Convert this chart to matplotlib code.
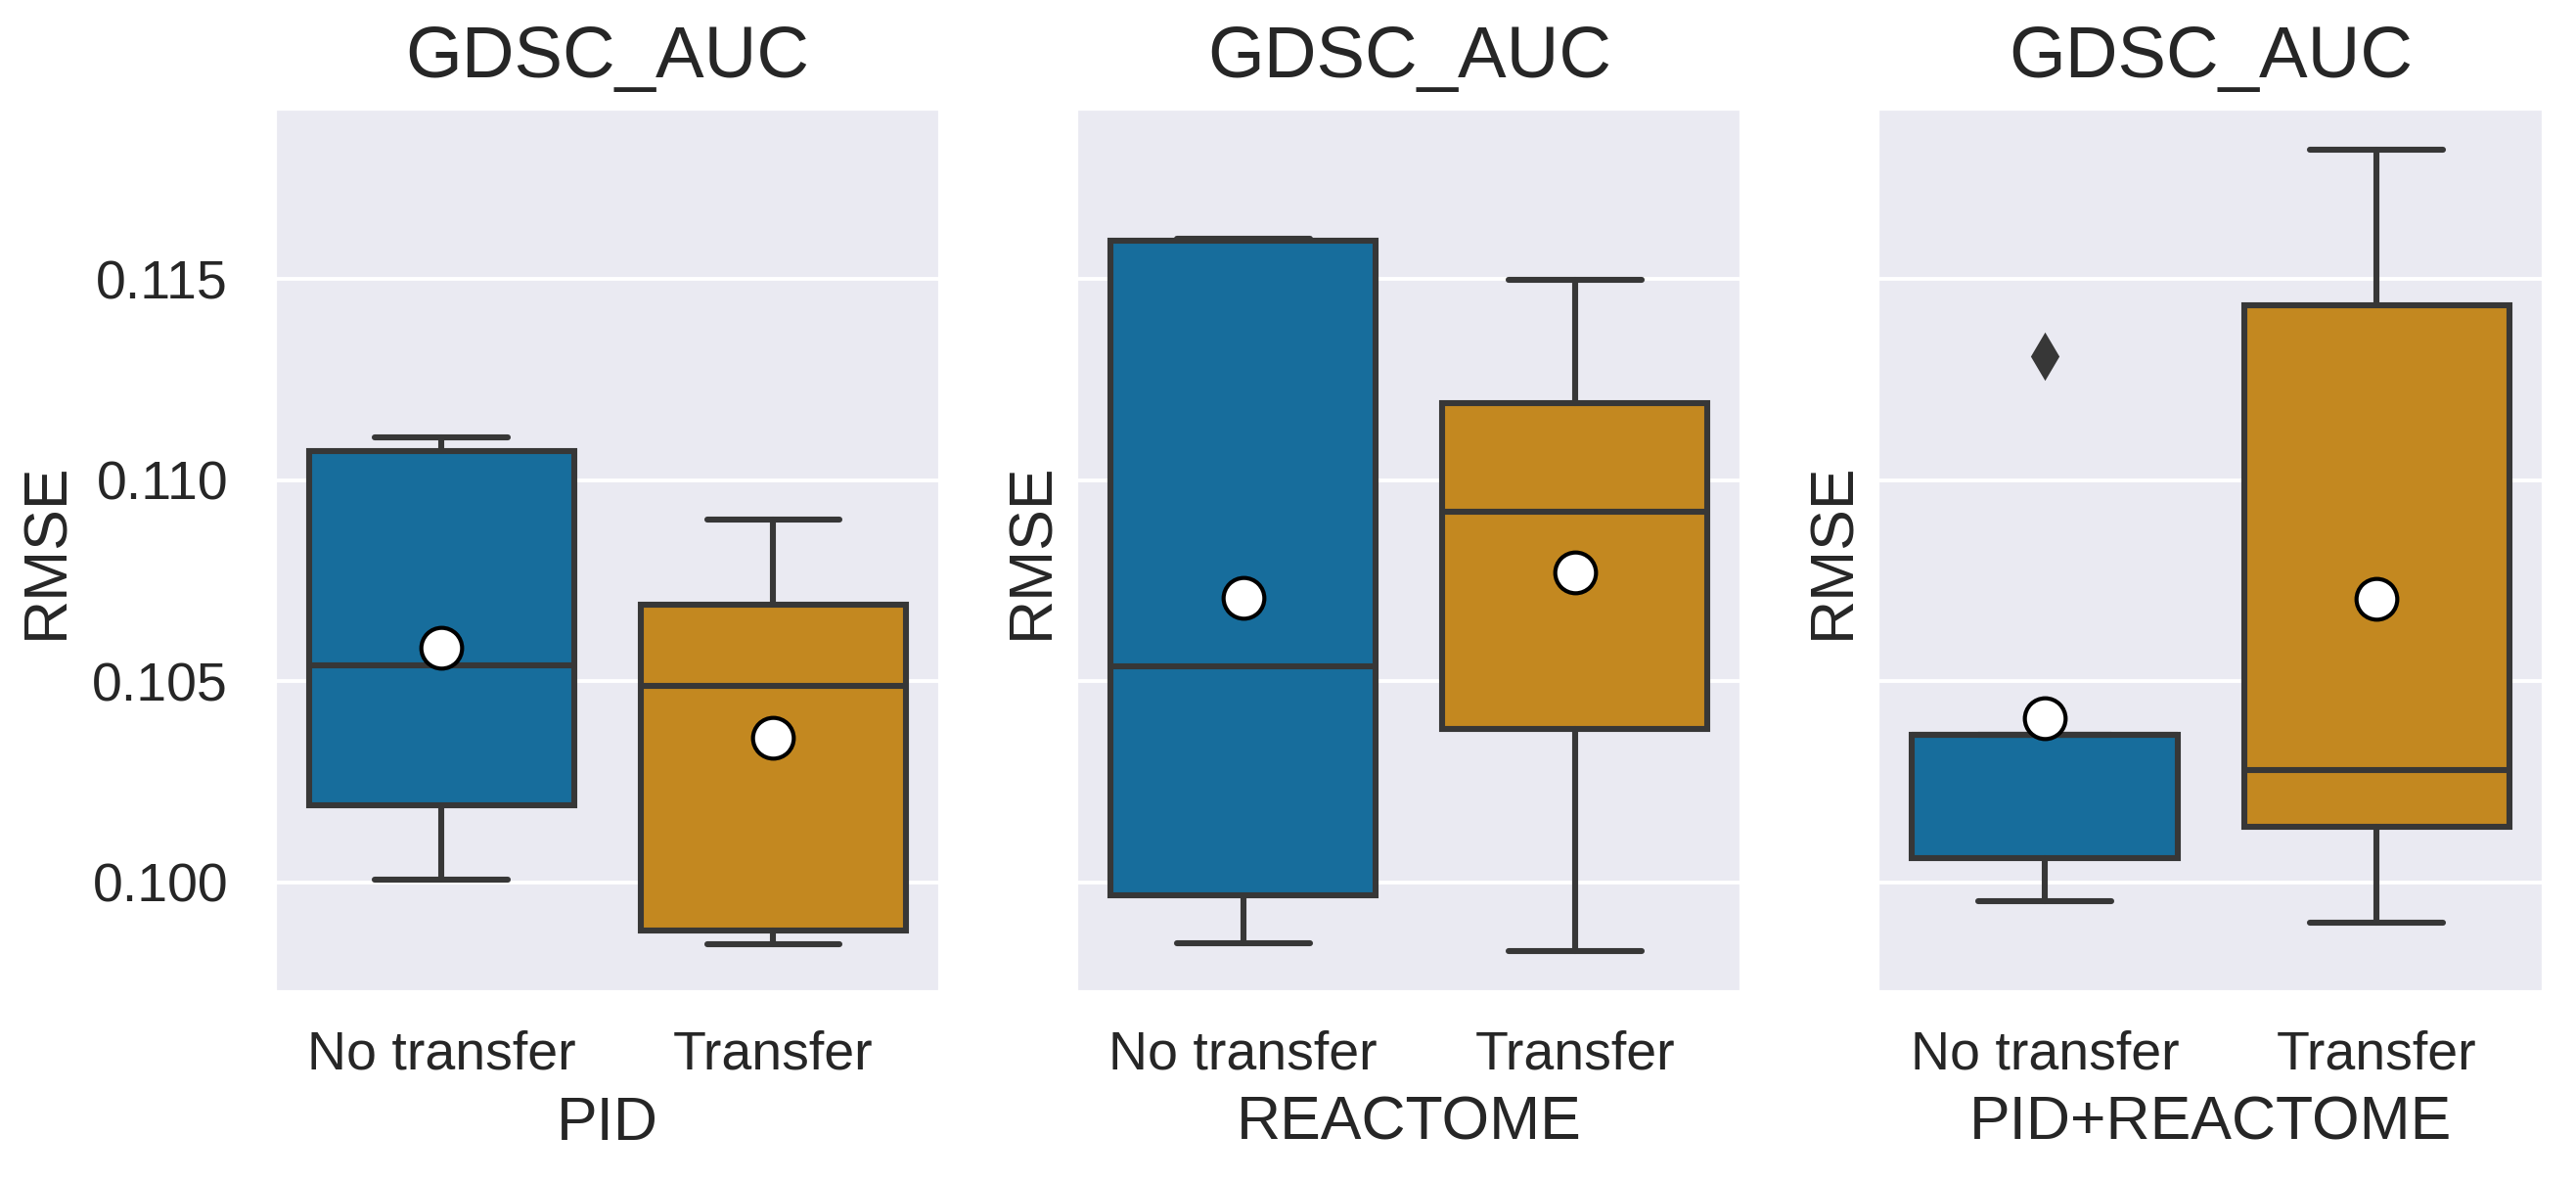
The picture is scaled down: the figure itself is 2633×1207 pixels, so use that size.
import matplotlib
matplotlib.use("Agg")
import matplotlib.pyplot as plt
import seaborn as sns

# -------------------------------------------------------
# Datos (RMSE por grupo)
# -------------------------------------------------------
TITULO = "GDSC_AUC"
paneles = ["PID", "REACTOME", "PID+REACTOME"]
grupos = ["No transfer", "Transfer"]

# cada fila = un panel, columnas = [No transfer, Transfer]
bigote_inf = [[0.10006, 0.09846], [0.09849, 0.09829], [0.09952, 0.09900]]
cuartil_1 = [[0.10190, 0.09879], [0.09968, 0.10381], [0.10059, 0.10138]]
mediana = [[0.10539, 0.10487], [0.10537, 0.10922], [0.10366, 0.10279]]
cuartil_3 = [[0.11073, 0.10691], [0.11597, 0.11192], [0.10366, 0.11435]]
bigote_sup = [[0.11106, 0.10901], [0.11602, 0.11498], [0.10366, 0.11822]]
medias = [[0.10582, 0.10359], [0.10708, 0.10771], [0.10409, 0.10705]]
atipicos = [[[], []], [[], []], [[0.11309], []]]

sns.set_style("darkgrid")
plt.rcParams["font.family"] = ["Liberation Sans", "DejaVu Sans"]

GRIS = "#373737"
colores = [sns.desaturate(c, 0.75) for c in sns.color_palette("colorblind")[:2]]

fig, axes = plt.subplots(1, 3, sharey=True, figsize=(13.165, 6.035), dpi=200)
fig.subplots_adjust(left=0.107, right=0.987, top=0.907, bottom=0.161, wspace=0.208)

for k, ax in enumerate(axes):
    stats = []
    for j in range(len(grupos)):
        stats.append({
            "whislo": bigote_inf[k][j],
            "q1": cuartil_1[k][j],
            "med": mediana[k][j],
            "q3": cuartil_3[k][j],
            "whishi": bigote_sup[k][j],
            "mean": medias[k][j],
            "fliers": atipicos[k][j],
            "label": grupos[j],
        })
    cajas = ax.bxp(
        stats, positions=range(len(grupos)), widths=0.8,
        patch_artist=True, showmeans=True,
        boxprops=dict(edgecolor=GRIS, linewidth=2.2),
        medianprops=dict(color=GRIS, linewidth=2.2),
        whiskerprops=dict(color=GRIS, linewidth=2.2, solid_capstyle="round"),
        capprops=dict(color=GRIS, linewidth=2.2, solid_capstyle="round"),
        capwidths=0.4,
        meanprops=dict(marker="o", markerfacecolor="white", markeredgecolor="black",
                       markersize=15, markeredgewidth=1.5),
        flierprops=dict(marker="d", markerfacecolor=GRIS, markeredgecolor=GRIS,
                        markersize=11),
    )
    for caja, color in zip(cajas["boxes"], colores):
        caja.set_facecolor(color)

    ax.set_xlim(-0.5, 1.5)
    ax.set_title(TITULO, fontsize=26.8, pad=12)
    ax.set_xlabel(paneles[k], fontsize=22.5, labelpad=5)
    ax.set_ylabel("RMSE", fontsize=22.5, labelpad=6)
    ax.yaxis.set_tick_params(labelleft=True if k == 0 else False)
    ax.tick_params(axis="x", labelsize=20, pad=11)
    ax.tick_params(axis="y", labelsize=20, pad=14)
    ax.grid(True, axis="y", color="white", linewidth=1.4)
    ax.grid(False, axis="x")

axes[0].set_yticks([0.100, 0.105, 0.110, 0.115])
axes[0].set_yticklabels(["0.100", "0.105", "0.110", "0.115"])

fig.savefig("out.png", dpi=200)
